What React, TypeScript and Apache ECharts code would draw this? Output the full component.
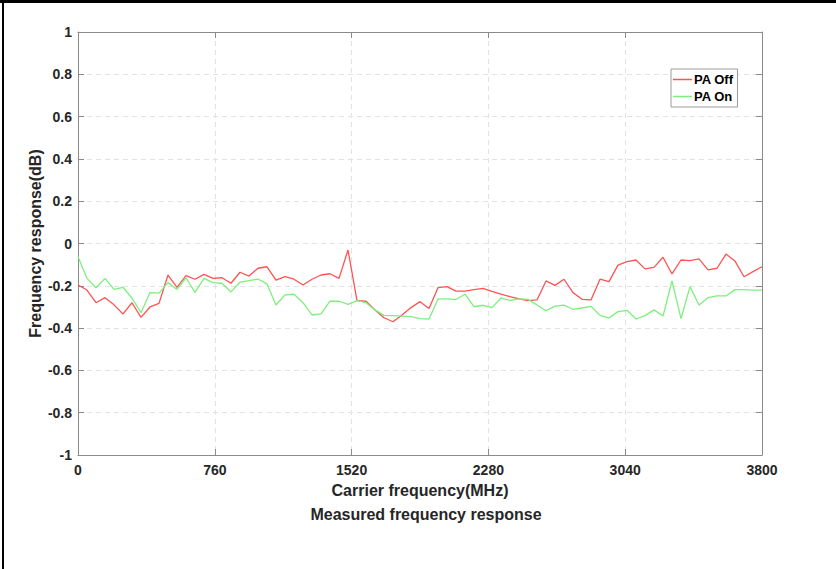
import React, { useEffect, useRef } from "react";
import * as echarts from "echarts";

const freqs = [
  0, 50, 100, 150, 200, 250, 300, 350, 400, 450, 500, 550, 600, 650, 700, 750,
  800, 850, 900, 950, 1000, 1050, 1100, 1150, 1200, 1250, 1300, 1350, 1400,
  1450, 1500, 1550, 1600, 1650, 1700, 1750, 1800, 1850, 1900, 1950, 2000, 2050,
  2100, 2150, 2200, 2250, 2300, 2350, 2400, 2450, 2500, 2550, 2600, 2650, 2700,
  2750, 2800, 2850, 2900, 2950, 3000, 3050, 3100, 3150, 3200, 3250, 3300, 3350,
  3400, 3450, 3500, 3550, 3600, 3650, 3700, 3750, 3800,
];

const paOff = [
  -0.196, -0.22, -0.28, -0.256, -0.29, -0.333, -0.28, -0.349, -0.3, -0.283,
  -0.149, -0.207, -0.152, -0.169, -0.146, -0.165, -0.162, -0.188, -0.136,
  -0.154, -0.117, -0.11, -0.173, -0.157, -0.169, -0.196, -0.169, -0.149,
  -0.143, -0.165, -0.031, -0.27, -0.273, -0.314, -0.351, -0.37, -0.338,
  -0.303, -0.275, -0.307, -0.209, -0.204, -0.225, -0.225, -0.218, -0.212,
  -0.226, -0.239, -0.251, -0.262, -0.27, -0.267, -0.177, -0.198, -0.169,
  -0.232, -0.264, -0.267, -0.169, -0.18, -0.102, -0.086, -0.078, -0.12,
  -0.113, -0.065, -0.144, -0.078, -0.081, -0.073, -0.125, -0.117, -0.05,
  -0.083, -0.157, -0.133, -0.11,
];

const paOn = [
  -0.062, -0.165, -0.209, -0.165, -0.217, -0.207, -0.259, -0.327, -0.232,
  -0.235, -0.185, -0.217, -0.162, -0.231, -0.165, -0.185, -0.188, -0.229,
  -0.183, -0.176, -0.168, -0.191, -0.291, -0.243, -0.24, -0.28, -0.338,
  -0.333, -0.273, -0.273, -0.288, -0.27, -0.28, -0.314, -0.34, -0.341,
  -0.343, -0.346, -0.355, -0.358, -0.262, -0.262, -0.265, -0.239, -0.299,
  -0.292, -0.303, -0.258, -0.269, -0.262, -0.264, -0.291, -0.318, -0.296,
  -0.291, -0.311, -0.305, -0.297, -0.34, -0.352, -0.322, -0.316, -0.357,
  -0.341, -0.314, -0.343, -0.177, -0.355, -0.204, -0.291, -0.256, -0.248,
  -0.248, -0.218, -0.218, -0.22, -0.22,
];

const seriesNames = ["PA Off", "PA On"];
const xTitle = "Carrier frequency(MHz)";
const yTitle = "Frequency response(dB)";
const chartTitle = "Measured frequency response";

const FONT = "'Liberation Sans', Arial, sans-serif";

export default function App() {
  const ref = useRef<HTMLDivElement>(null);
  useEffect(() => {
    if (!ref.current) return;
    const chart = echarts.init(ref.current, undefined, { renderer: "svg" });
    const axisLine = { show: true, onZero: false, lineStyle: { color: "#8a8a8a", width: 1 } };
    const tick = { show: true, inside: true, length: 6, lineStyle: { color: "#8a8a8a" } };
    const splitLine = {
      show: true,
      lineStyle: { color: "#e2e2e2", type: [5, 4] as any, width: 1 },
    };
    const labelStyle = {
      color: "#262626",
      fontFamily: FONT,
      fontWeight: "bold" as const,
      fontSize: 14,
    };
    const nameStyle = {
      color: "#262626",
      fontFamily: FONT,
      fontWeight: "bold" as const,
      fontSize: 16,
    };
    chart.setOption({
      animation: false,
      backgroundColor: "#ffffff",
      title: {
        text: chartTitle,
        left: 421,
        top: 501,
        textAlign: "center",
        textStyle: { ...nameStyle },
      },
      graphic: [
        { type: "rect", shape: { x: 0, y: 0, width: 836, height: 3 }, style: { fill: "#000" } },
        { type: "rect", shape: { x: 2, y: 0, width: 2, height: 569 }, style: { fill: "#000" } },
      ],
      grid: { left: 78, top: 32, width: 684, height: 423, containLabel: false },
      legend: {
        orient: "vertical",
        left: 671,
        top: 69,
        data: seriesNames.map((n) => ({ name: n, icon: "rect" })),
        itemWidth: 19,
        itemHeight: 1.5,
        itemGap: 4,
        padding: [4, 4, 4, 2],
        borderColor: "#9a9a9a",
        borderWidth: 1,
        borderRadius: 0,
        backgroundColor: "#fff",
        textStyle: { ...labelStyle, fontSize: 13, color: "#000", padding: [0, 0, 0, -3] },
      },
      xAxis: [
        {
          type: "value",
          min: 0,
          max: 3800,
          interval: 760,
          position: "bottom",
          name: xTitle,
          nameLocation: "middle",
          nameGap: 27,
          nameMoveOverlap: false,
          nameTextStyle: nameStyle,
          axisLine,
          axisTick: tick,
          axisLabel: { ...labelStyle, margin: 8, formatter: (v: number) => String(v) },
          splitLine,
        },
        {
          type: "value",
          min: 0,
          max: 3800,
          interval: 760,
          position: "top",
          axisLine,
          axisTick: tick,
          axisLabel: { show: false },
          splitLine: { show: false },
        },
      ],
      yAxis: [
        {
          type: "value",
          min: -1,
          max: 1,
          interval: 0.2,
          position: "left",
          name: yTitle,
          nameLocation: "middle",
          nameGap: 35,
          nameMoveOverlap: false,
          nameTextStyle: nameStyle,
          axisLine,
          axisTick: tick,
          axisLabel: {
            ...labelStyle,
            margin: 6,
            formatter: (v: number) => String(Math.round(v * 10) / 10),
          },
          splitLine,
        },
        {
          type: "value",
          min: -1,
          max: 1,
          interval: 0.2,
          position: "right",
          axisLine,
          axisTick: tick,
          axisLabel: { show: false },
          splitLine: { show: false },
        },
      ],
      series: [
        {
          name: seriesNames[0],
          type: "line",
          data: freqs.map((f, i) => [f, paOff[i]]),
          symbol: "none",
          lineStyle: { color: "#ff5252", width: 1.3 },
          itemStyle: { color: "#ff5252" },
        },
        {
          name: seriesNames[1],
          type: "line",
          data: freqs.map((f, i) => [f, paOn[i]]),
          symbol: "none",
          lineStyle: { color: "#7def7d", width: 1.3 },
          itemStyle: { color: "#7def7d" },
        },
      ],
    });
    return () => chart.dispose();
  }, []);
  return (
    <div
      ref={ref}
      style={{ position: "fixed", left: 0, top: 0, width: 836, height: 569 }}
    />
  );
}
